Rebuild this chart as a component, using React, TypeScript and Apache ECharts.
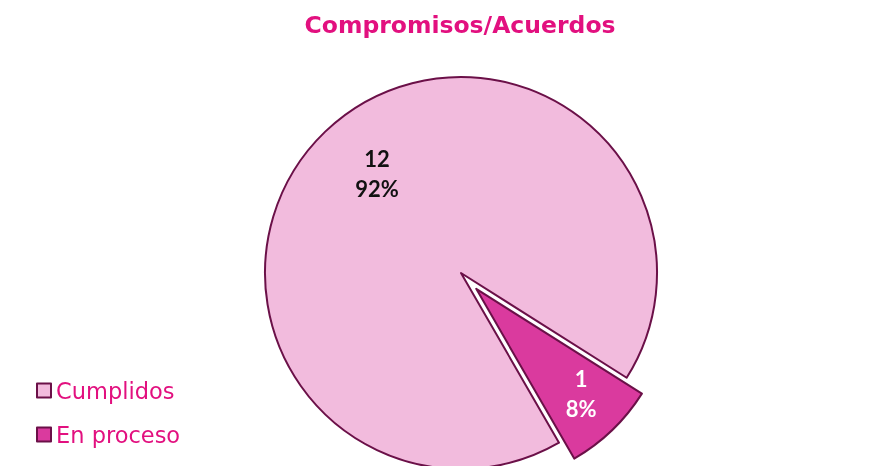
import React, { useEffect, useRef } from "react";
import * as echarts from "echarts";

const categories = ["Cumplidos", "En proceso"];
const values = [12, 1];
const fills = ["#F2BBDD", "#DA3A9E"];
const labelColors = ["#111111", "#FFFFFF"];
const labelShifts: [number, number][] = [[-14, -27], [35, 32]];

export default function App() {
  const ref = useRef<HTMLDivElement>(null);
  useEffect(() => {
    if (!ref.current) return;
    const chart = echarts.init(ref.current, undefined, { renderer: "svg" });
    const titleFont = "'Century Gothic', 'DejaVu Sans', sans-serif";
    const labelFont = "'Century Gothic', Lato, sans-serif";
    chart.setOption({
      animation: false,
      title: {
        text: "Compromisos/Acuerdos",
        left: 455,
        textAlign: "center",
        top: 8,
        textStyle: { color: "#E2107F", fontSize: 23.5, fontWeight: "bold", fontFamily: titleFont },
      },
      legend: {
        orient: "vertical",
        left: 31,
        top: 374,
        itemWidth: 14,
        itemHeight: 14,
        itemGap: 21,
        icon: "rect",
        data: categories,
        textStyle: { color: "#E2107F", fontSize: 22.5, fontFamily: titleFont },
        selectedMode: false,
      },
      series: [
        {
          type: "pie",
          center: [461, 273],
          radius: 196,
          startAngle: 300,
          clockwise: true,
          percentPrecision: 0,
          selectedMode: "single",
          selectedOffset: 22,
          emphasis: { disabled: true },
          itemStyle: { borderColor: "#6B1048", borderWidth: 2 },
          labelLine: { show: false },
          labelLayout: (params: any) => ({
            dx: labelShifts[params.dataIndex][0],
            dy: labelShifts[params.dataIndex][1],
          }),
          data: categories.map((name, i) => ({
            name,
            value: values[i],
            selected: i === 1,
            itemStyle: { color: fills[i] },
            label: {
              show: true,
              position: "inside",
              formatter: "{c}\n{d}%",
              color: labelColors[i],
              fontSize: 22,
              fontWeight: "bold",
              fontFamily: labelFont,
              lineHeight: 30,
            },
          })),
        },
      ],
    });
    return () => chart.dispose();
  }, []);
  return <div ref={ref} style={{ position: "fixed", left: 0, top: 0, width: 878, height: 466 }} />;
}
